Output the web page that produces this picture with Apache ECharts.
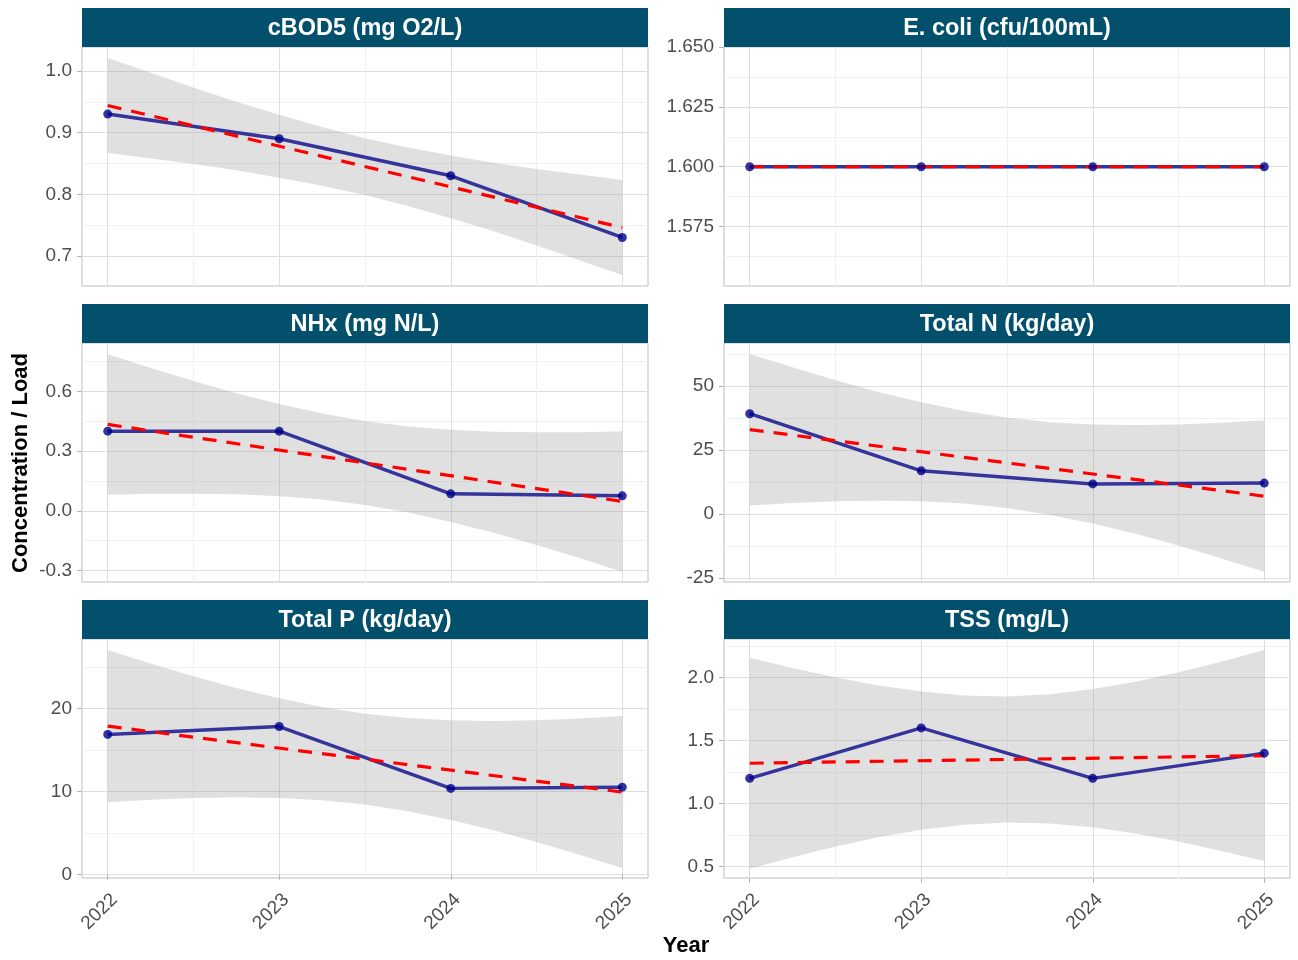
<!DOCTYPE html>
<html><head><meta charset="utf-8">
<script src="https://cdn.jsdelivr.net/npm/echarts@6/dist/echarts.min.js"></script>
<style>html,body{margin:0;padding:0;background:#fff}#c{width:1298px;height:960px}</style>
</head><body><div id="c"></div>
<script>
// ---------- data ----------
const years = [2022, 2023, 2024, 2025];
const fitYears = [2022, 2025];
const bandYears = [2022, 2022.25, 2022.5, 2022.75, 2023, 2023.25, 2023.5, 2023.75, 2024, 2024.25, 2024.5, 2024.75, 2025];
const titles = ['cBOD5 (mg O2/L)', 'E. coli (cfu/100mL)', 'NHx (mg N/L)', 'Total N (kg/day)', 'Total P (kg/day)', 'TSS (mg/L)'];

const cbod5 = [0.93, 0.89, 0.83, 0.73];
const cbod5Fit = [0.944, 0.746];
const cbod5Lo = [0.867, 0.858, 0.849, 0.839, 0.827, 0.814, 0.799, 0.781, 0.761, 0.740, 0.717, 0.693, 0.669];
const cbod5Hi = [1.021, 0.997, 0.973, 0.950, 0.929, 0.909, 0.891, 0.876, 0.863, 0.851, 0.841, 0.832, 0.823];
const cbod5Ticks = [0.7, 0.8, 0.9, 1.0];
const cbod5Range = [0.6513, 1.0388];

const ecoli = [1.6, 1.6, 1.6, 1.6];
const ecoliFit = [1.6, 1.6];
const ecoliLo = [1.6, 1.6, 1.6, 1.6, 1.6, 1.6, 1.6, 1.6, 1.6, 1.6, 1.6, 1.6, 1.6];
const ecoliHi = [1.6, 1.6, 1.6, 1.6, 1.6, 1.6, 1.6, 1.6, 1.6, 1.6, 1.6, 1.6, 1.6];
const ecoliTicks = [1.575, 1.600, 1.625, 1.650];
const ecoliRange = [1.5502, 1.6500];

const nhx = [0.40, 0.40, 0.085, 0.075];
const nhxFit = [0.434, 0.047];
const nhxLo = [0.080, 0.085, 0.086, 0.083, 0.073, 0.056, 0.029, -0.009, -0.056, -0.111, -0.172, -0.238, -0.307];
const nhxHi = [0.787, 0.718, 0.652, 0.591, 0.536, 0.489, 0.451, 0.424, 0.407, 0.397, 0.394, 0.395, 0.400];
const nhxTicks = [-0.3, 0.0, 0.3, 0.6];
const nhxRange = [-0.358, 0.843];

const totalN = [39.1, 16.8, 11.7, 12.0];
const totalNFit = [32.9, 6.9];
const totalNLo = [3.3, 4.2, 4.9, 5.1, 4.9, 4.0, 2.3, -0.4, -3.8, -7.8, -12.4, -17.4, -22.6];
const totalNHi = [62.4, 57.2, 52.2, 47.6, 43.6, 40.2, 37.6, 35.8, 34.9, 34.7, 34.9, 35.6, 36.5];
const totalNTicks = [-25, 0, 25, 50];
const totalNRange = [-26.6, 66.7];

const totalP = [16.9, 17.85, 10.4, 10.55];
const totalPFit = [17.9, 9.95];
const totalPLo = [8.74, 9.02, 9.23, 9.32, 9.25, 8.98, 8.45, 7.65, 6.60, 5.34, 3.93, 2.40, 0.79];
const totalPHi = [27.06, 25.45, 23.92, 22.51, 21.25, 20.20, 19.40, 18.87, 18.60, 18.53, 18.62, 18.83, 19.11];
const totalPTicks = [0, 10, 20];
const totalPRange = [-0.4, 28.4];

const tss = [1.2, 1.6, 1.2, 1.4];
const tssFit = [1.32, 1.38];
const tssLo = [0.484, 0.575, 0.659, 0.733, 0.792, 0.833, 0.850, 0.843, 0.812, 0.763, 0.699, 0.625, 0.544];
const tssHi = [2.157, 2.075, 2.001, 1.937, 1.888, 1.857, 1.850, 1.867, 1.908, 1.967, 2.041, 2.125, 2.217];
const tssTicks = [0.5, 1.0, 1.5, 2.0];
const tssRange = [0.41, 2.305];

const xRange = [2021.85, 2025.15];

// ---------- build ----------
const panels = [
  {vals: cbod5, fit: cbod5Fit, lo: cbod5Lo, hi: cbod5Hi, ticks: cbod5Ticks, range: cbod5Range, dec: 1, iv: 0.1},
  {vals: ecoli, fit: ecoliFit, lo: ecoliLo, hi: ecoliHi, ticks: ecoliTicks, range: ecoliRange, dec: 3, iv: 0.025},
  {vals: nhx, fit: nhxFit, lo: nhxLo, hi: nhxHi, ticks: nhxTicks, range: nhxRange, dec: 1, iv: 0.3},
  {vals: totalN, fit: totalNFit, lo: totalNLo, hi: totalNHi, ticks: totalNTicks, range: totalNRange, dec: 0, iv: 25},
  {vals: totalP, fit: totalPFit, lo: totalPLo, hi: totalPHi, ticks: totalPTicks, range: totalPRange, dec: 0, iv: 10},
  {vals: tss, fit: tssFit, lo: tssLo, hi: tssHi, ticks: tssTicks, range: tssRange, dec: 1, iv: 0.5}
];

const FONT = "'Liberation Sans', Arial, Helvetica, sans-serif";
const colLeft = [82, 724], rowTop = [47, 343, 639];
const PW = 566, PH = 239, STRIP_H = 39;
const grids = [], xAxes = [], yAxes = [], series = [], graphics = [];
const gridMajor = {show: true, lineStyle: {color: '#dedede', width: 1}};
const gridMinor = {show: true, lineStyle: {color: '#f0f0f0', width: 1}};

panels.forEach((p, i) => {
  const col = i % 2, row = Math.floor(i / 2);
  const left = colLeft[col], top = rowTop[row];
  const isBottom = row === 2;
  grids.push({left: left, top: top, width: PW, height: PH, show: true,
    borderColor: '#bdbdbd', borderWidth: 1, backgroundColor: '#ffffff'});
  xAxes.push({type: 'value', gridIndex: i, min: xRange[0], max: xRange[1],
    minInterval: 1, maxInterval: 1,
    axisLine: {show: false},
    axisTick: {show: isBottom, length: 5, lineStyle: {color: '#b3b3b3', width: 1}, customValues: years},
    axisLabel: {show: isBottom, customValues: years, rotate: 45, align: 'right', verticalAlign: 'top',
      margin: 12, fontSize: 19, color: '#4d4d4d', fontFamily: FONT, formatter: v => String(v)},
    splitLine: gridMajor,
    minorTick: {show: false, splitNumber: 2},
    minorSplitLine: gridMinor});
  yAxes.push({type: 'value', gridIndex: i, min: p.range[0], max: p.range[1],
    minInterval: p.iv, maxInterval: p.iv,
    axisLine: {show: false},
    axisTick: {show: true, length: 5, lineStyle: {color: '#b3b3b3', width: 1}, customValues: p.ticks},
    axisLabel: {customValues: p.ticks, margin: 10, fontSize: 19, color: '#4d4d4d', fontFamily: FONT,
      formatter: v => v.toFixed(p.dec)},
    splitLine: gridMajor,
    minorTick: {show: false, splitNumber: 2},
    minorSplitLine: gridMinor});

  const rows = bandYears.map((x, k) => [x, p.lo[k], p.hi[k]]);
  series.push({type: 'custom', xAxisIndex: i, yAxisIndex: i, data: rows, encode: {x: 0, y: [1, 2]},
    silent: true, z: 1,
    renderItem: (params, api) => {
      if (params.dataIndex !== 0) return null;
      const pts = [];
      for (let k = 0; k < rows.length; k++) pts.push(api.coord([rows[k][0], rows[k][2]]));
      for (let k = rows.length - 1; k >= 0; k--) pts.push(api.coord([rows[k][0], rows[k][1]]));
      return {type: 'polygon', shape: {points: pts}, style: {fill: 'rgba(153,153,153,0.3)'}};
    }});
  series.push({type: 'line', xAxisIndex: i, yAxisIndex: i, data: years.map((x, k) => [x, p.vals[k]]),
    symbol: 'none', silent: true, z: 2, lineStyle: {color: '#34349a', width: 3.5}});
  series.push({type: 'line', xAxisIndex: i, yAxisIndex: i, data: fitYears.map((x, k) => [x, p.fit[k]]),
    symbol: 'none', silent: true, z: 3, lineStyle: {color: '#ff0000', width: 3.2, type: [14, 10], cap: 'butt'}});
  series.push({type: 'scatter', xAxisIndex: i, yAxisIndex: i, data: years.map((x, k) => [x, p.vals[k]]),
    symbol: 'circle', symbolSize: 9, silent: true, z: 4, itemStyle: {color: '#00008b'}});

  graphics.push({type: 'rect', left: left, top: top - STRIP_H, shape: {width: PW, height: STRIP_H},
    style: {fill: '#02506b'}, silent: true});
  graphics.push({type: 'text', x: left + PW / 2, y: top - STRIP_H / 2 + 1,
    style: {text: titles[i], fill: '#ffffff', font: 'bold 23.5px ' + FONT, textAlign: 'center', textVerticalAlign: 'middle'},
    silent: true});
});

graphics.push({type: 'text', x: 21, y: 463, rotation: Math.PI / 2,
  style: {text: 'Concentration / Load', fill: '#000000', font: 'bold 22px ' + FONT, textAlign: 'center', textVerticalAlign: 'middle'}});
graphics.push({type: 'text', x: 686, y: 946,
  style: {text: 'Year', fill: '#000000', font: 'bold 22px ' + FONT, textAlign: 'center', textVerticalAlign: 'middle'}});

const chart = echarts.init(document.getElementById('c'), null, {renderer: 'canvas'});
chart.setOption({
  animation: false,
  backgroundColor: '#ffffff',
  grid: grids, xAxis: xAxes, yAxis: yAxes, series: series, graphic: graphics
});
</script>
</body></html>
